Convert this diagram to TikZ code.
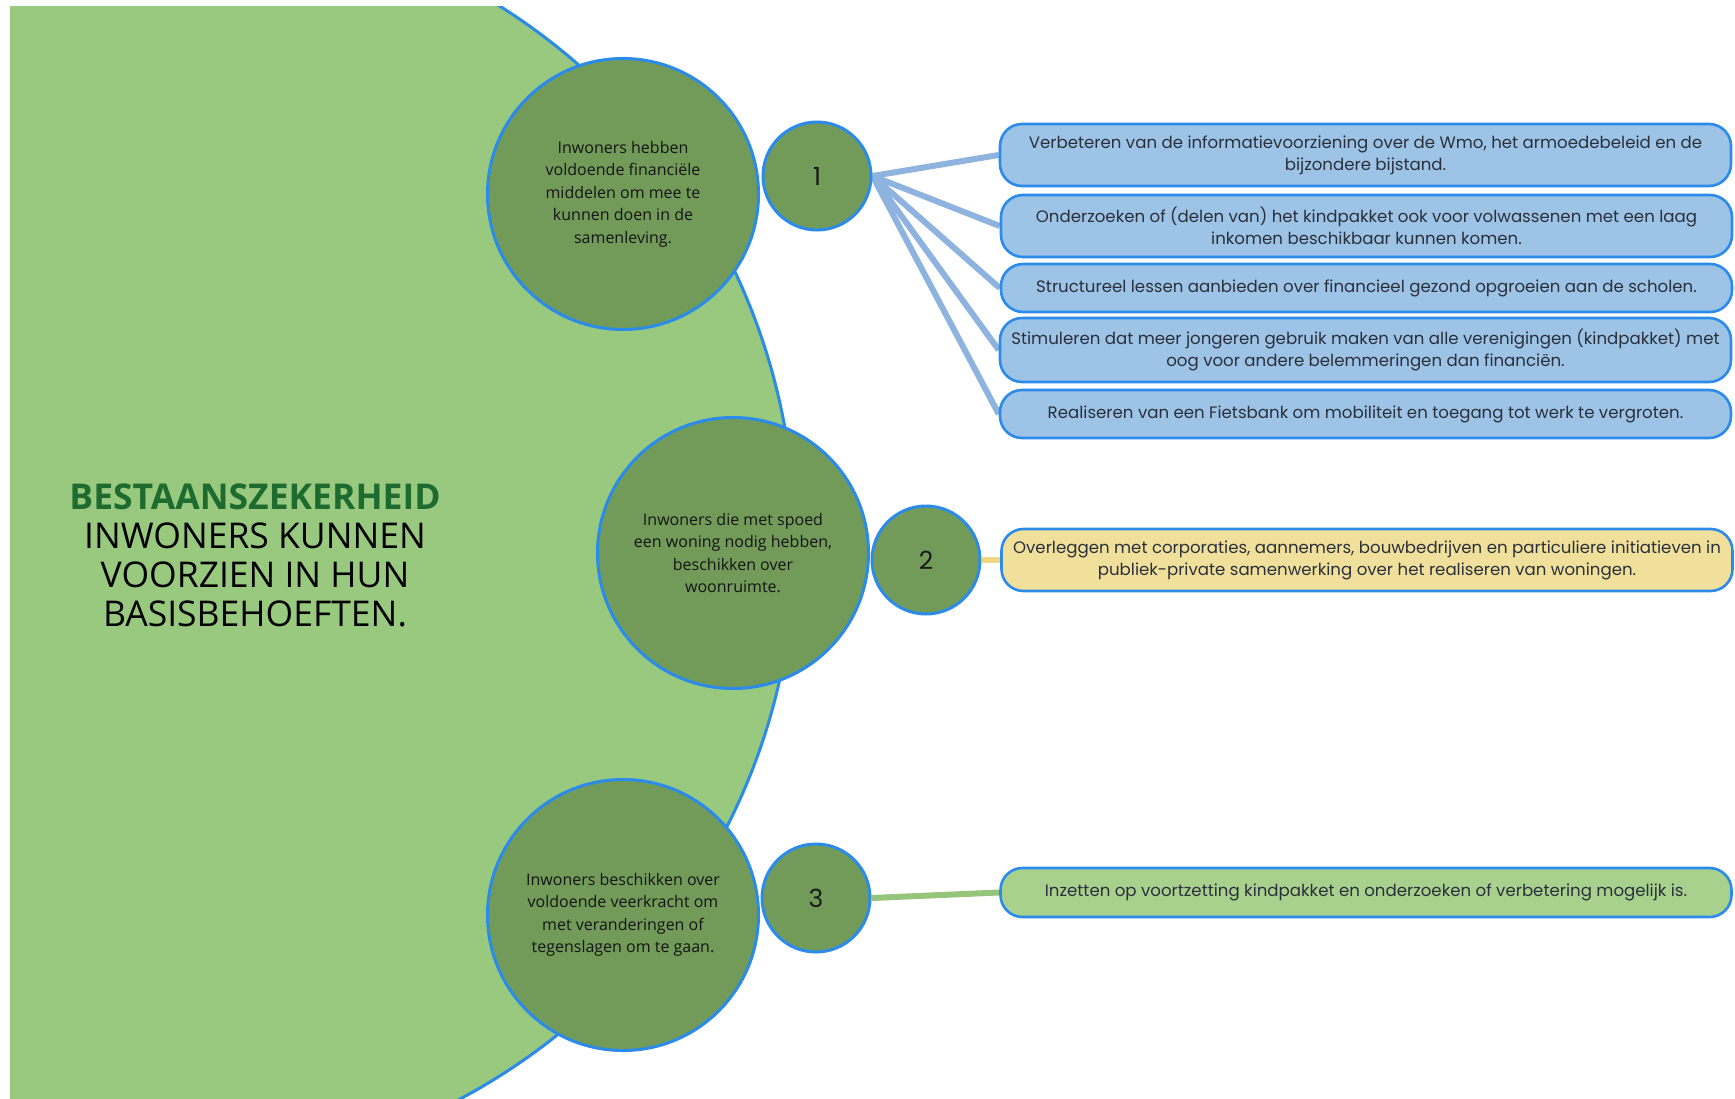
\documentclass[tikz,border=0pt]{standalone}
\usepackage{fontspec}
\setmainfont{Open Sans}
\newfontfamily\boxfont{Poppins}
\definecolor{bigfill}{HTML}{98C97F}
\definecolor{circfill}{HTML}{729B5A}
\definecolor{bord}{HTML}{2A8BEA}
\definecolor{boxblue}{HTML}{9DC3E6}
\definecolor{linkblue}{HTML}{8DB3DE}
\definecolor{boxyellow}{HTML}{F1E09B}
\definecolor{linkyellow}{HTML}{F0D67F}
\definecolor{boxgreen}{HTML}{A9D18E}
\definecolor{linkgreen}{HTML}{95C57A}
\definecolor{titlegreen}{HTML}{1E6B2F}
\definecolor{boxtext}{HTML}{2A303B}
\pgfdeclarelayer{bg}
\pgfsetlayers{bg,main}
\tikzset{
  goal/.style={circle, draw=bord, line width=3pt, fill=circfill, minimum size=271pt, inner sep=0pt,
    align=center, text=black!92, font=\fontsize{16}{22.5}\selectfont},
  num/.style={circle, draw=bord, line width=3pt, fill=circfill, minimum size=108pt, inner sep=0pt,
    text=black!90, font=\boxfont\fontsize{25}{25}\selectfont},
  act/.style={rectangle, draw=bord, line width=2.6pt, rounded corners=22pt, minimum width=731pt,
    inner sep=0pt, align=center, text=boxtext, font=\boxfont\fontsize{16.6}{22}\selectfont},
  link/.style={line width=6pt, draw=#1}
}
\begin{document}
\begin{tikzpicture}[x=1pt,y=-1pt]
\useasboundingbox (0,0) rectangle (1735,1098);
\begin{scope}
  \clip (10,6) rectangle (1735,1098);
  \filldraw[fill=bigfill, draw=bord, line width=3pt] (163,541) circle[radius=632pt];
\end{scope}
\node[align=center, font=\fontsize{35.5}{39}\selectfont] (title) at (255,555)
  {\textcolor{titlegreen}{\bfseries BESTAANSZEKERHEID}\\INWONERS KUNNEN\\VOORZIEN IN HUN\\BASISBEHOEFTEN.};
\node[goal] (c1) at (623,194) {Inwoners hebben\\voldoende financiële\\middelen om mee te\\kunnen doen in de\\samenleving.};
\node[goal] (c2) at (733,553) {Inwoners die met spoed\\een woning nodig hebben,\\beschikken over\\woonruimte.};
\node[goal] (c3) at (623,915) {Inwoners beschikken over\\voldoende veerkracht om\\met veranderingen of\\tegenslagen om te gaan.};
\node[num] (n1) at (817,176) {1};
\node[num] (n2) at (926,560) {2};
\node[num] (n3) at (816,898) {3};
\node[act, fill=boxblue, minimum height=62pt] (a1) at (1365.5,155)
  {Verbeteren van de informatievoorziening over de Wmo, het armoedebeleid en de\\bijzondere bijstand.};
\node[act, fill=boxblue, minimum height=62pt] (a2) at (1366.5,226)
  {Onderzoeken of (delen van) het kindpakket ook voor volwassenen met een laag\\inkomen beschikbaar kunnen komen.};
\node[act, fill=boxblue, minimum height=48pt] (a3) at (1366.5,288)
  {Structureel lessen aanbieden over financieel gezond opgroeien aan de scholen.};
\node[act, fill=boxblue, minimum height=64pt] (a4) at (1365.5,350)
  {Stimuleren dat meer jongeren gebruik maken van alle verenigingen (kindpakket) met\\oog voor andere belemmeringen dan financiën.};
\node[act, fill=boxblue, minimum height=48pt] (a5) at (1365.5,414)
  {Realiseren van een Fietsbank om mobiliteit en toegang tot werk te vergroten.};
\node[act, fill=boxyellow, minimum height=62pt] (y1) at (1367,560)
  {Overleggen met corporaties, aannemers, bouwbedrijven en particuliere initiatieven in\\publiek-private samenwerking over het realiseren van woningen.};
\node[act, fill=boxgreen, minimum height=49pt] (g1) at (1366,892.5)
  {Inzetten op voortzetting kindpakket en onderzoeken of verbetering mogelijk is.};
\begin{pgfonlayer}{bg}
  \draw[link=linkblue] (n1.east) -- (a1.west);
  \draw[link=linkblue] (n1.east) -- (a2.west);
  \draw[link=linkblue] (n1.east) -- (a3.west);
  \draw[link=linkblue] (n1.east) -- (a4.west);
  \draw[link=linkblue] (n1.east) -- (a5.west);
  \draw[link=linkyellow] (n2.east) -- (y1.west);
  \draw[link=linkgreen] (n3.east) -- (g1.west);
\end{pgfonlayer}
\end{tikzpicture}
\end{document}
